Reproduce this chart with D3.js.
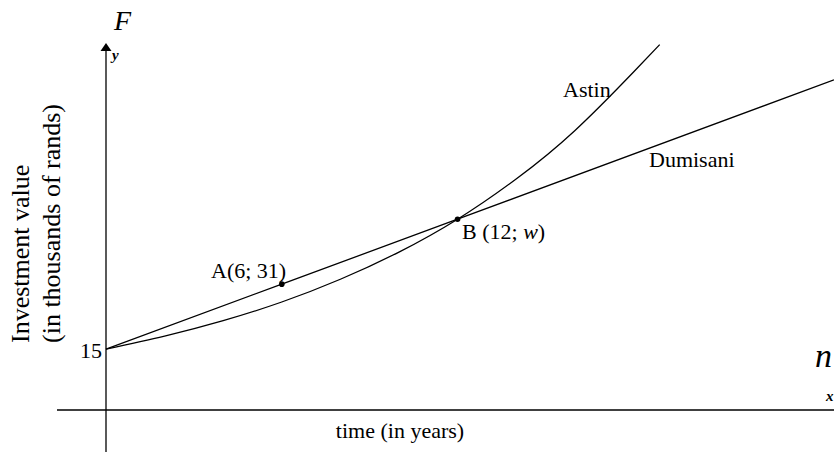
<!DOCTYPE html>
<html><head><meta charset="utf-8">
<script src="https://cdn.jsdelivr.net/npm/d3@7"></script>
<style>body{margin:0;background:#fff}svg{display:block}text{font-family:"Liberation Serif","Times New Roman",serif;fill:#000}</style>
</head><body><svg id="c" width="834" height="452"></svg>
<script>
// data
const astinN = [0, 2, 4, 6, 8, 10, 12, 14, 16, 18, 18.9];
const astinF = [15, 18.2, 22, 26.6, 32.2, 38.9, 47, 56.9, 68.8, 83.2, 90];
const dumisaniN = [0, 6, 12, 24.85];
const dumisaniF = [15, 31, 47, 81.3];
const pointsN = [6, 12];
const pointsF = [31, 47];
const pointLabels = ["A(6; 31)", "B (12; "];
const yTickVals = [15];

const svg = d3.select("#c");
const x = d3.scaleLinear().domain([0, 24.85]).range([106, 834]);
const y = d3.scaleLinear().domain([0, 90]).range([410, 44.6]);

// axes
svg.append("line").attr("x1", 57).attr("x2", 834).attr("y1", y(0)).attr("y2", y(0)).attr("stroke", "#000").attr("stroke-width", 1.3);
svg.append("line").attr("x1", x(0)).attr("x2", x(0)).attr("y1", 452).attr("y2", 48).attr("stroke", "#000").attr("stroke-width", 1.3);
svg.append("path").attr("d", `M${x(0)-5.5},${51} L${x(0)},${43} L${x(0)+5.5},${51} Z`).attr("fill", "#000");

yTickVals.forEach(v => {
  svg.append("text").attr("x", x(0) - 4).attr("y", y(v) + 9).attr("text-anchor", "end").attr("font-size", 22).text(v);
});

const line = d3.line().x(d => x(d[0])).y(d => y(d[1]));
svg.append("path").datum(dumisaniN.map((n, i) => [n, dumisaniF[i]]))
  .attr("d", line).attr("fill", "none").attr("stroke", "#000").attr("stroke-width", 1.3);
svg.append("path").datum(astinN.map((n, i) => [n, astinF[i]]))
  .attr("d", line.curve(d3.curveNatural)).attr("fill", "none").attr("stroke", "#000").attr("stroke-width", 1.3);

pointsN.forEach((n, i) => {
  svg.append("circle").attr("cx", x(n)).attr("cy", y(pointsF[i])).attr("r", 2.8).attr("fill", "#000");
});
svg.append("text").attr("x", 211).attr("y", 278).attr("font-size", 22).text(pointLabels[0]);
const bt = svg.append("text").attr("x", 462).attr("y", 239).attr("font-size", 22).text(pointLabels[1]);
bt.append("tspan").attr("font-style", "italic").text("w");
bt.append("tspan").text(")");

svg.append("text").attr("x", 563).attr("y", 97).attr("font-size", 22).text("Astin");
svg.append("text").attr("x", 649).attr("y", 167).attr("font-size", 22).text("Dumisani");

svg.append("text").attr("x", 114).attr("y", 30).attr("font-size", 28).attr("font-style", "italic").text("F");
svg.append("text").attr("x", 112).attr("y", 60).attr("font-size", 15).attr("font-style", "italic").attr("font-weight", "bold").text("y");
svg.append("text").attr("x", 815).attr("y", 367).attr("font-size", 34).attr("font-style", "italic").text("n");
svg.append("text").attr("x", 826).attr("y", 401).attr("font-size", 15).attr("font-style", "italic").attr("font-weight", "bold").text("x");

svg.append("text").attr("x", 400).attr("y", 438).attr("text-anchor", "middle").attr("font-size", 22).text("time (in years)");
const yl = svg.append("g").attr("transform", "translate(29,343) rotate(-90)");
yl.append("text").attr("text-anchor", "start").attr("font-size", 26).text("Investment value");
yl.append("text").attr("y", 31).attr("text-anchor", "start").attr("font-size", 26).text("(in thousands of rands)");
</script></body></html>
